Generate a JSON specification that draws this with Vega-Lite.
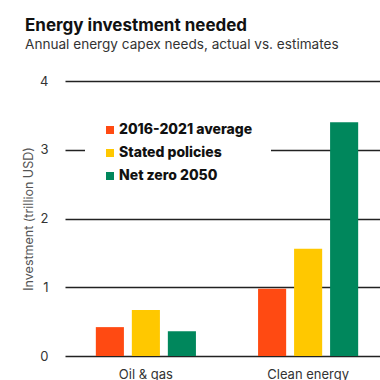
{
  "$schema": "https://vega.github.io/schema/vega-lite/v6.json",
  "width": 324,
  "height": 275,
  "autosize": {"type": "none"},
  "padding": {"left": 65, "top": 81, "right": 0, "bottom": 24},
  "background": "white",
  "title": {
    "text": "Energy investment needed",
    "subtitle": "Annual energy capex needs, actual vs. estimates",
    "anchor": "start",
    "frame": "group",
    "dx": -40,
    "offset": 22,
    "font": "Inter",
    "fontSize": 17,
    "fontWeight": "bold",
    "color": "#111111",
    "subtitleFont": "Inter",
    "subtitleFontSize": 13.6,
    "subtitleColor": "#333333",
    "subtitlePadding": 3
  },
  "data": {
    "values": [
      {"sector": "Oil & gas", "scenario": "2016-2021 average", "value": 0.42},
      {"sector": "Oil & gas", "scenario": "Stated policies", "value": 0.67},
      {"sector": "Oil & gas", "scenario": "Net zero 2050", "value": 0.36},
      {"sector": "Clean energy", "scenario": "2016-2021 average", "value": 0.98},
      {"sector": "Clean energy", "scenario": "Stated policies", "value": 1.56},
      {"sector": "Clean energy", "scenario": "Net zero 2050", "value": 3.4}
    ]
  },
  "mark": {"type": "bar"},
  "encoding": {
    "x": {
      "field": "sector",
      "type": "nominal",
      "sort": ["Oil & gas", "Clean energy"],
      "scale": {"paddingInner": 0.383, "paddingOuter": 0.19},
      "axis": {
        "title": null,
        "labelAngle": 0,
        "ticks": false,
        "domain": false,
        "labelPadding": 12,
        "labelFont": "Inter",
        "labelFontSize": 13,
        "labelColor": "#333333"
      }
    },
    "xOffset": {
      "field": "scenario",
      "type": "nominal",
      "sort": ["2016-2021 average", "Stated policies", "Net zero 2050"],
      "scale": {"paddingInner": 0.22, "paddingOuter": 0}
    },
    "y": {
      "field": "value",
      "type": "quantitative",
      "scale": {"domain": [0, 4]},
      "axis": {
        "title": "Investment (trillion USD)",
        "values": [0, 1, 2, 3, 4],
        "ticks": false,
        "domain": false,
        "grid": true,
        "gridColor": "#222222",
        "gridWidth": 1.5,
        "labelPadding": 17,
        "labelFont": "Inter",
        "labelFontSize": 13,
        "labelColor": "#333333",
        "titleFont": "Inter",
        "titleFontSize": 12.5,
        "titleFontWeight": "normal",
        "titleColor": "#555555",
        "titlePadding": 4
      }
    },
    "color": {
      "field": "scenario",
      "type": "nominal",
      "sort": ["2016-2021 average", "Stated policies", "Net zero 2050"],
      "scale": {
        "domain": ["2016-2021 average", "Stated policies", "Net zero 2050"],
        "range": ["#FF4A12", "#FFC800", "#00875C"]
      },
      "legend": {
        "title": null,
        "orient": "none",
        "legendX": 20,
        "legendY": 24,
        "fillColor": "white",
        "padding": 18,
        "symbolType": "square",
        "symbolSize": 64,
        "symbolStrokeWidth": 0,
        "labelFont": "Inter",
        "labelFontSize": 14,
        "labelFontWeight": 800,
        "labelColor": "#111111",
        "labelOffset": 2,
        "rowPadding": 9
      }
    }
  },
  "config": {"view": {"stroke": null}}
}
